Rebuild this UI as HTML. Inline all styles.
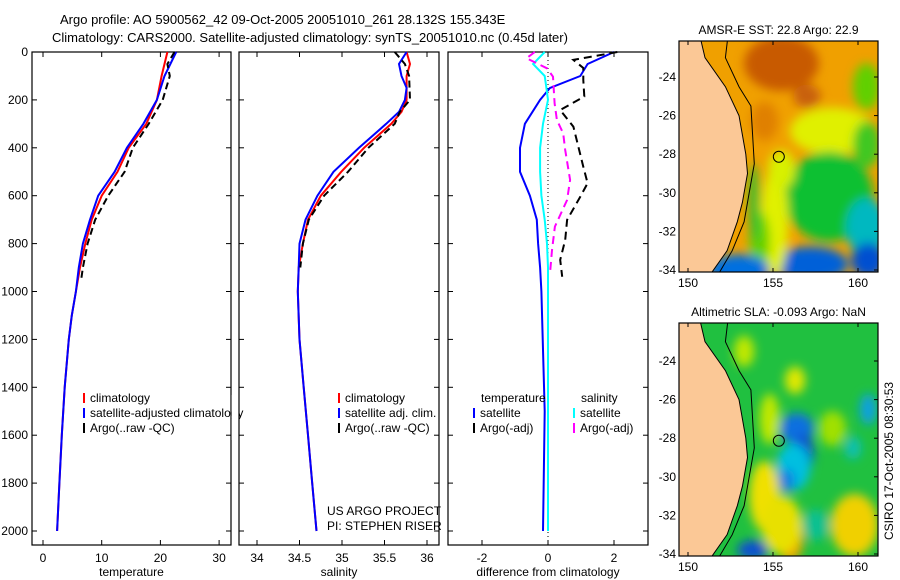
<!DOCTYPE html>
<html><head><meta charset="utf-8"><style>
body{margin:0;background:#fff;}
svg{display:block;font-family:"Liberation Sans",sans-serif;}
text{font-size:12px;fill:#000;}
</style></head><body>
<svg id="fig" width="900" height="580" viewBox="0 0 900 580">
<defs>
<filter id="bl" x="-50%" y="-50%" width="200%" height="200%"><feGaussianBlur stdDeviation="5"/></filter>
<clipPath id="c1"><rect x="679" y="41" width="199" height="231"/></clipPath>
<clipPath id="c2"><rect x="679" y="323" width="199" height="233"/></clipPath>
</defs>
<text x="60" y="24" style="font-size:13px">Argo profile: AO 5900562_42 09-Oct-2005 20051010_261 28.132S 155.343E</text>
<text x="52" y="42" style="font-size:13px">Climatology: CARS2000. Satellite-adjusted climatology: synTS_20051010.nc (0.45d later)</text>
<g id="g1"></g>
<g id="g2"></g>
<g id="g3"></g>
<g id="m1"></g>
<g id="m2"></g>
<text transform="translate(893,540) rotate(-90)">CSIRO 17-Oct-2005 08:30:53</text>
</svg>
<script>
// ---- data ----
const tDepth=[0,100,200,300,400,500,600,700,800,900,1000,1100,1200,1400,1600,1800,2000];
const tClim=[21.2,20.2,19.4,17.6,14.6,12.7,10.0,8.3,7.2,6.3,5.6,4.9,4.4,3.7,3.2,2.8,2.4];
const tSat=[22.7,20.7,19.4,17.1,14.3,12.2,9.4,8.0,6.8,6.1,5.6,4.9,4.4,3.7,3.2,2.8,2.4];
const tArgoDepth=[0,50,100,200,300,400,500,600,700,800,900,950];
const tArgo=[22.4,21.2,21.6,20.4,18.0,15.3,13.9,11.1,8.9,7.6,6.8,6.5];
const sDepth=[0,50,100,150,200,250,300,400,500,600,700,800,900,1000,1200,1400,1600,1800,2000];
const sClim=[35.76,35.80,35.76,35.76,35.76,35.70,35.58,35.26,34.99,34.75,34.60,34.54,34.49,34.48,34.50,34.55,34.60,34.65,34.70];
const sSat=[35.76,35.67,35.70,35.76,35.74,35.67,35.52,35.20,34.90,34.71,34.57,34.50,34.49,34.48,34.50,34.55,34.60,34.65,34.70];
const sArgoDepth=[0,50,100,200,250,300,400,500,600,700,800,900];
const sArgo=[35.62,35.74,35.79,35.80,35.68,35.62,35.31,35.07,34.79,34.61,34.54,34.51];
const dDepth=[0,50,100,150,200,300,400,500,600,700,800,900,1000,1500,2000];
const dTsat=[2.0,1.2,0.98,0.06,-0.24,-0.7,-0.85,-0.85,-0.55,-0.34,-0.3,-0.24,-0.2,-0.1,-0.15];
const dSsat=[-0.1,-0.45,-0.1,-0.05,0,-0.15,-0.24,-0.24,-0.2,-0.1,-0.03,0,0,0,0];
const dArgoTDepth=[0,33,67,117,186,242,312,479,548,604,701,785,868,938];
const dArgoT=[2.1,0.77,1.07,1.07,1.1,0.37,0.77,1.07,1.2,0.98,0.58,0.52,0.37,0.43];
const dArgoSDepth=[0,26,68,103,214,284,340,409,534,618,729,827,924];
const dArgoS=[-0.4,-0.65,-0.03,0.15,0.2,0.27,0.46,0.52,0.67,0.58,0.21,0.12,0.06];
const yTicks=[0,200,400,600,800,1000,1200,1400,1600,1800,2000];
const tTicks=[0,10,20,30], sTicks=[34,34.5,35,35.5,36], dTicks=[-2,0,2];
// ---- helpers ----
const NS='http://www.w3.org/2000/svg';
function el(p,t,a,txt){const e=document.createElementNS(NS,t);for(const k in a)e.setAttribute(k,a[k]);if(txt!==undefined)e.textContent=txt;p.appendChild(e);return e;}
const Y=d=>52+0.2395*d;
const TOP=52,BOT=545;
function panel(g,x0,x1,X,ticks,lab,xlabel,leftLabels){
  el(g,'rect',{x:x0,y:TOP,width:x1-x0,height:BOT-TOP,fill:'none',stroke:'#000','stroke-width':1.2});
  yTicks.forEach(v=>{
    el(g,'line',{x1:x0,x2:x0+5,y1:Y(v),y2:Y(v),stroke:'#000'});
    el(g,'line',{x1:x1,x2:x1-5,y1:Y(v),y2:Y(v),stroke:'#000'});
    if(leftLabels){const t=el(g,'text',{x:x0-4,y:Y(v)+4,'text-anchor':'end'},v);}
  });
  ticks.forEach((v,i)=>{
    el(g,'line',{x1:X(v),x2:X(v),y1:BOT,y2:BOT-5,stroke:'#000'});
    el(g,'line',{x1:X(v),x2:X(v),y1:TOP,y2:TOP+5,stroke:'#000'});
    const t=el(g,'text',{x:X(v),y:562,'text-anchor':'middle'},lab[i]);
    
    
  });
  const xl=el(g,'text',{x:(x0+x1)/2,y:576,'text-anchor':'middle'},xlabel);
  
  
}
function line(g,X,vals,deps,col,dash,name,w){
  const d=vals.map((v,i)=>(i?'L':'M')+X(v).toFixed(1)+' '+Y(deps[i]).toFixed(1)).join('');
  const p=el(g,'path',{d:d,fill:'none',stroke:col,'stroke-width':w||2,'stroke-dasharray':dash||'none'});
  
  
}
function legend(g,x,y,col,dash,txt){
  el(g,'line',{x1:x,x2:x,y1:y-9,y2:y+1,stroke:col,'stroke-width':2});
  const t=el(g,'text',{x:x+6,y:y},txt);
  
  
}
// panel 1
const g1=document.getElementById('g1');
const XT=v=>43+5.87*v;
panel(g1,32,231,XT,tTicks,['0','10','20','30'],'temperature',true);
line(g1,XT,tClim,tDepth,'#f00','','temp-climatology-line');
line(g1,XT,tSat,tDepth,'#00f','','temp-satellite-line');
line(g1,XT,tArgo,tArgoDepth,'#000','7,4','temp-argo-line');
legend(g1,84,402,'#f00','','climatology');
legend(g1,84,417,'#00f','','satellite-adjusted climatology');
legend(g1,84,432,'#000','','Argo(..raw -QC)');
el(g1,'rect',{x:231.6,y:395,width:7,height:45,fill:'#fff'});
// panel 2
const g2=document.getElementById('g2');
const XS=v=>257+85*(v-34);
panel(g2,239,439,XS,sTicks,['34','34.5','35','35.5','36'],'salinity',false);
line(g2,XS,sClim,sDepth,'#f00','','sal-climatology-line');
line(g2,XS,sSat,sDepth,'#00f','','sal-satellite-line');
line(g2,XS,sArgo,sArgoDepth,'#000','7,4','sal-argo-line');
legend(g2,339,402,'#f00','','climatology');
legend(g2,339,417,'#00f','','satellite adj. clim.');
legend(g2,339,432,'#000','','Argo(..raw -QC)');
el(g2,'text',{x:327,y:515},'US ARGO PROJECT');
el(g2,'text',{x:327,y:530},'PI: STEPHEN RISER');
// panel 3
const g3=document.getElementById('g3');
const XD=v=>548+33*v;
panel(g3,448,648,XD,dTicks,['-2','0','2'],'difference from climatology',false);
el(g3,'line',{x1:XD(0),x2:XD(0),y1:TOP,y2:BOT,stroke:'#000','stroke-dasharray':'1,3'});
line(g3,XD,dTsat,dDepth,'#00f','','diff-temp-satellite-line');
line(g3,XD,dSsat,dDepth,'#0ff','','diff-sal-satellite-line');
line(g3,XD,dArgoT,dArgoTDepth,'#000','8,5','diff-temp-argo-line');
line(g3,XD,dArgoS,dArgoSDepth,'#f0f','8,5','diff-sal-argo-line');
el(g3,'text',{x:481,y:402},'temperature');
el(g3,'text',{x:581,y:402},'salinity');
legend(g3,474,417,'#00f','','satellite');
legend(g3,474,432,'#000','','Argo(-adj)');
legend(g3,574,417,'#0ff','','satellite');
legend(g3,574,432,'#f0f','','Argo(-adj)');
// ---- maps ----
function map(id,clip,x0,y0,w,h,y24,y34,title,blobs,base){
  const g=document.getElementById(id);
  const LX=l=>688+17*(l-150);
  const LY=l=>y24+(y34-y24)*(-24-l)/10;
  const c=el(g,'g',{'clip-path':'url(#'+clip+')'});
  el(c,'rect',{x:x0,y:y0,width:w,height:h,fill:base});
  const b=el(c,'g',{filter:'url(#bl)'});
  blobs.forEach(q=>el(b,'ellipse',{cx:LX(q[0]),cy:LY(q[1]),rx:q[2]*17,ry:q[3]*19.5,fill:q[4]}));
  const coast=[[150.6,-21.5],[151,-23],[152.2,-24.5],[153,-26],[153.4,-28],[153.5,-29],[153.2,-30.5],[152.9,-31.5],[152.3,-33],[151.1,-34.5]];
  let d='M'+(x0-2)+' '+(y0-2);coast.forEach(p=>d+='L'+LX(p[0]).toFixed(1)+' '+LY(p[1]).toFixed(1));d+='L'+(x0-2)+' '+(y0+h+2)+'Z';
  const land=el(c,'path',{d:d,fill:'#fbc896',stroke:'#000','stroke-width':1});
  
  
  const shelf=[[152.4,-21.5],[152.2,-23],[153,-24.5],[153.7,-25.5],[153.8,-27],[153.9,-28.5],[153.6,-30],[153.3,-31.5],[152.6,-33],[151.6,-34.5]];
  el(c,'path',{d:shelf.map((p,i)=>(i?'L':'M')+LX(p[0]).toFixed(1)+' '+LY(p[1]).toFixed(1)).join(''),fill:'none',stroke:'#000','stroke-width':1});
  el(c,'circle',{cx:LX(155.343),cy:LY(-28.132),r:5.5,fill:'none',stroke:'#000','stroke-width':1});
  el(g,'rect',{x:x0,y:y0,width:w,height:h,fill:'none',stroke:'#000','stroke-width':1.2});
  [-24,-26,-28,-30,-32,-34].forEach(l=>{
    el(g,'line',{x1:x0+w,x2:x0+w-4,y1:LY(l),y2:LY(l),stroke:'#000'});
    const t=el(g,'text',{x:x0-3,y:LY(l)+4,'text-anchor':'end'},l);
    
    
  });
  [150,155,160].forEach(l=>{
    el(g,'line',{x1:LX(l),x2:LX(l),y1:y0,y2:y0+4,stroke:'#000'});
    el(g,'line',{x1:LX(l),x2:LX(l),y1:y0+h,y2:y0+h-4,stroke:'#000'});
    const t=el(g,'text',{x:LX(l),y:y0+h+15,'text-anchor':'middle'},l);
    
    
  });
  const tt=el(g,'text',{x:x0+w/2,y:y0-7,'text-anchor':'middle'},title);
  
  
}
map('m1','c1',679,41,199,231,77,270,'AMSR-E SST: 22.8 Argo: 22.9',[
 [155.5,-23.3,2.2,1.4,'#c85a00'],[157,-25,0.8,0.6,'#c86010'],[154.5,-26.3,0.8,1,'#e08000'],
 [158.5,-26.8,2.5,1.2,'#e0f000'],[160.5,-24.5,0.8,1.2,'#60d000'],[160.5,-27.5,0.8,1.2,'#40c820'],
 [158.3,-30.2,2.6,2.3,'#10c030'],[160.5,-31.8,1.2,1.5,'#00b8c0'],[157.2,-33.7,2.2,0.9,'#0060d8'],[160.6,-33.5,1,0.9,'#0050d0'],
 [155.1,-31.5,0.8,2.8,'#e0f000'],[154.2,-32.5,0.6,1.5,'#60d000'],[153,-34,1.8,0.8,'#0070e0'],[155.5,-28.8,0.8,1,'#d8f000'],[153.9,-30.5,0.3,2,'#20c030']],'#f0a000');
map('m2','c2',679,323,199,233,361,554,'Altimetric SLA: -0.093 Argo: NaN',[
 [154.8,-27,0.6,1.3,'#c0e800'],[156.3,-25,0.6,0.7,'#e0e800'],[156.4,-27.5,1,0.8,'#1070e0'],[156.8,-28.8,0.6,1,'#1050d0'],
 [156.2,-29.5,1,1.2,'#00c0e0'],[155.8,-30.2,0.5,0.6,'#1080e0'],[154.5,-31,0.9,1.8,'#f0e000'],[156,-33.2,0.8,1.2,'#f0a000'],
 [155.5,-32.5,1.2,1.5,'#e8e000'],[159.8,-32.5,1.4,1.6,'#f0d000'],[158.5,-27.5,0.8,0.9,'#a0e000'],[160.6,-26.5,0.5,0.8,'#10a0e0'],
 [153.8,-33.8,0.9,0.5,'#1050d0'],[159.7,-28.5,0.5,0.6,'#10c0b0'],[157.5,-32.5,0.8,0.8,'#10c090'],[153.3,-23.5,0.6,0.8,'#c0e800']],'#20c040');
</script>
</body></html>
